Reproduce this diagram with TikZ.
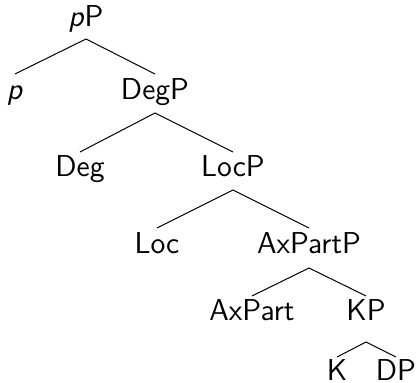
\documentclass[tikz,border=0pt]{standalone}
\begin{document}
\begin{tikzpicture}[x=0.5pt,y=-0.5pt,
  lbl/.style={anchor=base,inner sep=0pt,font=\fontsize{15.1}{18}\selectfont\sffamily},
  branch/.style={line width=0.5pt}]
\useasboundingbox (0,0) rectangle (417,383);

% labels, placed on their baselines
\node[lbl] (pP)      at (86,27)   {\textit{p}P};
\node[lbl] (p)       at (15,100)  {\textit{p}};
\node[lbl] (DegP)    at (155,100) {DegP};
\node[lbl] (Deg)     at (80,177)  {Deg};
\node[lbl] (LocP)    at (233,177) {LocP};
\node[lbl] (Loc)     at (157,254) {Loc};
\node[lbl] (AxPartP) at (309,254) {AxPartP};
\node[lbl] (AxPart)  at (252,321) {AxPart};
\node[lbl] (KP)      at (366,321) {KP};
\node[lbl] (K)       at (337,381) {K};
\node[lbl] (DP)      at (396,381) {DP};

% branches: from below the mother to above each daughter
\draw[branch] ([yshift=13pt]p.base) -- ([yshift=-6pt]pP.base) -- ([yshift=13pt]DegP.base);
\draw[branch] ([yshift=12.5pt]Deg.base) -- ([yshift=-6.5pt]DegP.base) -- ([yshift=12.5pt]LocP.base);
\draw[branch] ([yshift=13pt]Loc.base) -- ([yshift=-6.5pt]LocP.base) -- ([yshift=13pt]AxPartP.base);
\draw[branch] ([yshift=12.5pt]AxPart.base) -- ([yshift=-7pt]AxPartP.base) -- ([yshift=12.5pt]KP.base);
\draw[branch] ([yshift=12pt]K.base) -- ([yshift=-10.5pt]KP.base) -- ([yshift=12pt]DP.base);
\end{tikzpicture}
\end{document}
